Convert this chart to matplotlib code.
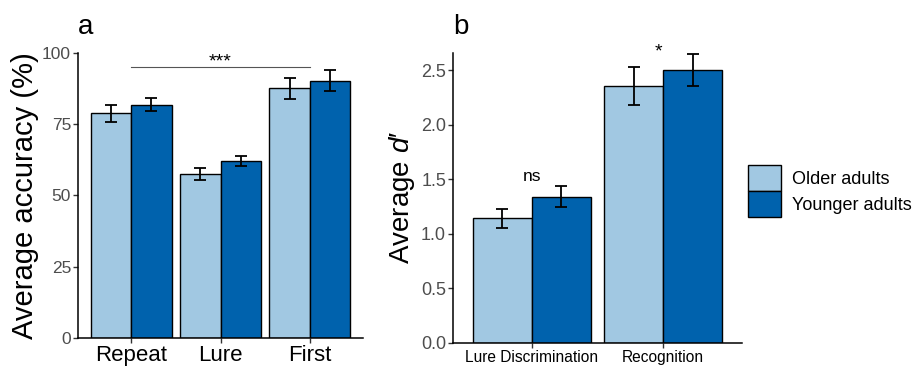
import matplotlib
matplotlib.use("Agg")
import matplotlib.pyplot as plt
from matplotlib.patches import Patch
import numpy as np

plt.rcParams['font.family'] = ['Liberation Sans', 'DejaVu Sans']
plt.rcParams['mathtext.fontset'] = 'custom'
plt.rcParams['mathtext.it'] = 'Liberation Sans:italic'
plt.rcParams['mathtext.rm'] = 'Liberation Sans'

# panel a: accuracy (%)
cats_a = ["Repeat", "Lure", "First"]
older_a = [78.9, 57.5, 87.6]
older_a_err = [3.0, 2.1, 3.7]
younger_a = [81.9, 62.1, 90.3]
younger_a_err = [2.2, 1.7, 3.6]

# panel b: d'
cats_b = ["Lure Discrimination", "Recognition"]
older_b = [1.142, 2.353]
older_b_err = [0.086, 0.176]
younger_b = [1.340, 2.500]
younger_b_err = [0.097, 0.148]

groups = ["Older adults", "Younger adults"]
c_old = "#A1C8E2"
c_young = "#0062AD"
tick_grey = "#4D4D4D"

fig = plt.figure(figsize=(9.18, 3.68), dpi=100)
ax1 = fig.add_axes([78/918, 30/368, 285/918, 285/368])
ax2 = fig.add_axes([453/918, 25.3/368, 289/918, 289.7/368])

w = 0.45
ekw = dict(ecolor="black", elinewidth=1.3, capsize=4, capthick=1.3)


def bars(ax, cats, o, oe, y, ye):
    x = np.arange(len(cats))
    ax.bar(x - w/2, o, w, yerr=oe, color=c_old, edgecolor="black",
           linewidth=1.0, error_kw=ekw, zorder=2)
    ax.bar(x + w/2, y, w, yerr=ye, color=c_young, edgecolor="black",
           linewidth=1.0, error_kw=ekw, zorder=2)
    ax.set_xticks(x)
    ax.set_xticklabels(cats)
    ax.set_xlim(-0.6, len(cats) - 0.4)
    for s in ["top", "right"]:
        ax.spines[s].set_visible(False)
    for s in ["left", "bottom"]:
        ax.spines[s].set_linewidth(1.1)
    ax.tick_params(axis="both", length=3.5, width=1.0, color="#333333")
    ax.tick_params(axis="y", labelcolor=tick_grey, pad=1.5)
    ax.tick_params(axis="x", labelcolor="black", pad=1.5)


bars(ax1, cats_a, older_a, older_a_err, younger_a, younger_a_err)
ax1.set_ylim(0, 100)
ax1.set_yticks([0, 25, 50, 75, 100])
ax1.tick_params(axis="y", labelsize=12.5)
ax1.tick_params(axis="x", labelsize=16)
ax1.set_ylabel("Average accuracy (%)", fontsize=21, labelpad=2)
ax1.set_title("a", loc="left", fontsize=20, pad=14)
ax1.plot([0, 2], [95.2, 95.2], color="#555555", linewidth=0.8, zorder=3)
ax1.text(1, 94.0, "***", ha="center", va="bottom", fontsize=14)

bars(ax2, cats_b, older_b, older_b_err, younger_b, younger_b_err)
ax2.set_ylim(0, 2.656)
ax2.set_yticks([0, 0.5, 1.0, 1.5, 2.0, 2.5])
ax2.set_yticklabels(["0.0", "0.5", "1.0", "1.5", "2.0", "2.5"])
ax2.tick_params(axis="y", labelsize=13)
ax2.tick_params(axis="x", labelsize=11.2)
ax2.set_ylabel("Average $d$\u2032", fontsize=20, labelpad=3)
ax2.set_title("b", loc="left", fontsize=20, pad=14)
ax2.text(0, 1.52, "ns", ha="center", va="center", fontsize=12.5)
ax2.text(0.965, 2.67, "*", ha="center", va="center", fontsize=14, clip_on=False)

handles = [Patch(facecolor=c_old, edgecolor="black", linewidth=1.0),
           Patch(facecolor=c_young, edgecolor="black", linewidth=1.0)]
fig.legend(handles, groups, loc="upper left", bbox_to_anchor=(748/918, 1 - 165/368),
           frameon=False, fontsize=13, handlelength=1.83, handleheight=1.83,
           labelspacing=0.0, handletextpad=0.6, borderpad=0, borderaxespad=0)

fig.savefig("out.png", dpi=100)
